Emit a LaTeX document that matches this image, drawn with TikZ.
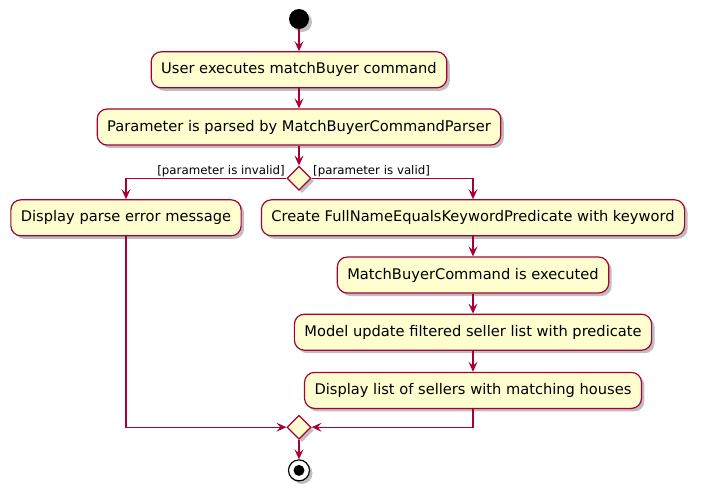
\documentclass[tikz,border=0pt]{standalone}
\usepackage{fontspec}
\setmainfont{DejaVu Sans}
\usetikzlibrary{calc,positioning,shapes,shadows,arrows.meta}

\definecolor{umlred}{HTML}{A80036}
\definecolor{umlfill}{HTML}{FEFECE}

\begin{document}
\begin{tikzpicture}[
  font=\fontsize{14.65}{16}\selectfont,
  umlshadow/.style={drop shadow={shadow xshift=3pt, shadow yshift=-3pt, fill=black, opacity=0.25}},
  act/.style={rectangle, rounded corners=10pt, draw=umlred, fill=umlfill, line width=1.2pt,
    minimum height=36pt, inner xsep=10pt, umlshadow},
  decision/.style={diamond, draw=umlred, fill=umlfill, line width=1.2pt, minimum size=24pt,
    inner sep=0pt, umlshadow},
  startdot/.style={circle, fill=black, minimum size=20pt, inner sep=0pt, umlshadow},
  stopring/.style={circle, draw=black, fill=white, line width=1.2pt, minimum size=21pt, inner sep=0pt, umlshadow},
  stopdot/.style={circle, fill=black, minimum size=11pt, inner sep=0pt},
  flow/.style={draw=umlred, line width=1.2pt, -{Stealth[length=10pt, width=9pt, inset=4pt]}},
  guard/.style={font=\fontsize{11.8}{13}\selectfont, inner sep=1pt}
]
\node [startdot] (start) {};
\useasboundingbox ($(start.center)+(-299pt,19pt)$) rectangle ++(701pt,-496pt);
\node [act, below=22pt of start] (user) {User executes matchBuyer command};
\node [act, below=20pt of user] (parse) {Parameter is parsed by MatchBuyerCommandParser};
\node [decision, below=20pt of parse] (dec) {};
% two branches
\node [act, below=21pt of dec.center, xshift=-173pt] (err) {Display parse error message};
\node [act, below=21pt of dec.center, xshift=174pt] (pred) {Create FullNameEqualsKeywordPredicate with keyword};
\node [act, below=20pt of pred] (exec) {MatchBuyerCommand is executed};
\node [act, below=20pt of exec] (model) {Model update filtered seller list with predicate};
\node [act, below=21pt of model] (show) {Display list of sellers with matching houses};
% merge and end
\node [decision] (merge) at ($(dec)+(0,-249pt)$) {};
\node [stopring, below=19.5pt of merge] (stop) {};
\node [stopdot] (stopdot) at (stop) {};
\draw [flow] (start) -- (user);
\draw [flow] (user) -- (parse);
\draw [flow] (parse) -- (dec);
\draw [flow] (dec) -| node [guard, pos=0, anchor=south east] (invalid) {[parameter is invalid]} (err);
\draw [flow] (dec) -| node [guard, pos=0, anchor=south west] (valid) {[parameter is valid]} (pred);
\draw [flow] (pred) -- (exec);
\draw [flow] (exec) -- (model);
\draw [flow] (model) -- (show);
\draw [flow] (err) |- (merge);
\draw [flow] (show) |- (merge);
\draw [flow] (merge) -- (stop);
\end{tikzpicture}
\end{document}
